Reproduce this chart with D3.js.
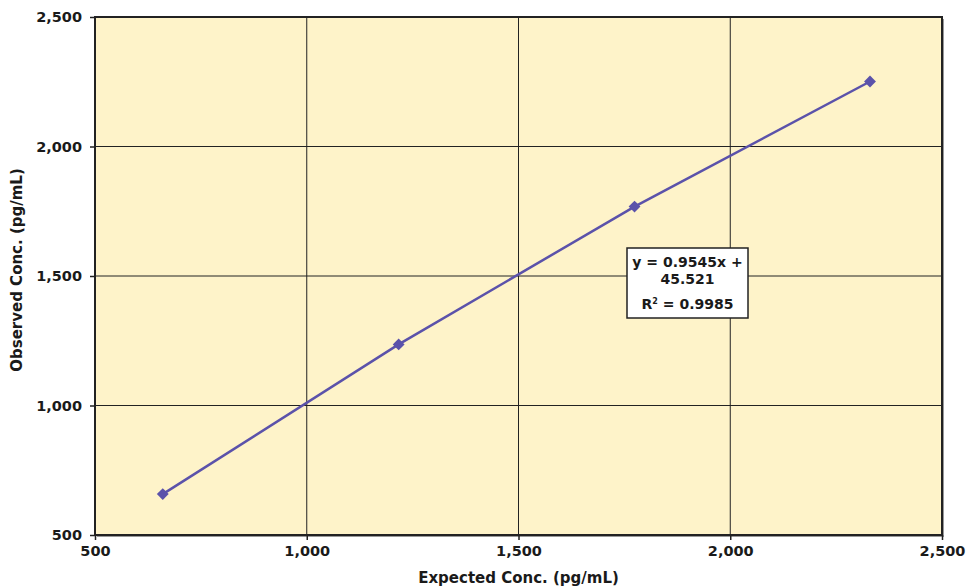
<!DOCTYPE html>
<html>
<head>
<meta charset="utf-8">
<script src="https://cdn.jsdelivr.net/npm/d3@7"></script>
<style>
  body { margin: 0; background: #fff; }
  text { font-family: "DejaVu Sans", sans-serif; font-weight: 700; fill: #1a1a1a; }
</style>
</head>
<body>
<div id="chart"></div>
<script>
// expected vs observed concentrations (pg/mL)
var expected = [660, 1217, 1774, 2330];
var observed = [658, 1236, 1768, 2251];
var xTicks = [500, 1000, 1500, 2000, 2500];
var yTicks = [500, 1000, 1500, 2000, 2500];
var fitLines = ["y = 0.9545x +", "45.521"];
var r2Label = "0.9985";

var width = 969, height = 588;
var margin = {top: 17, right: 27, bottom: 53, left: 95};
var w = width - margin.left - margin.right;
var h = height - margin.top - margin.bottom;

var svg = d3.select("#chart").append("svg")
    .attr("width", width)
    .attr("height", height);

var g = svg.append("g")
    .attr("transform", "translate(" + margin.left + "," + margin.top + ")");

var x = d3.scaleLinear().domain([500, 2500]).range([0, w]);
var y = d3.scaleLinear().domain([500, 2500]).range([h, 0]);

// plot background
g.append("rect")
    .attr("x", 2).attr("y", 2)
    .attr("width", w).attr("height", h)
    .attr("fill", "#999");
g.append("rect")
    .attr("width", w).attr("height", h)
    .attr("fill", "#fef3c9");

// gridlines
g.selectAll(".vgrid")
    .data(xTicks.slice(1, -1))
    .enter().append("line")
    .attr("x1", function(d) { return x(d); })
    .attr("x2", function(d) { return x(d); })
    .attr("y1", 0).attr("y2", h)
    .attr("stroke", "#222").attr("stroke-width", 1);
g.selectAll(".hgrid")
    .data(yTicks.slice(1, -1))
    .enter().append("line")
    .attr("y1", function(d) { return y(d); })
    .attr("y2", function(d) { return y(d); })
    .attr("x1", 0).attr("x2", w)
    .attr("stroke", "#222").attr("stroke-width", 1);

g.append("rect")
    .attr("width", w).attr("height", h)
    .attr("fill", "none")
    .attr("stroke", "#222").attr("stroke-width", 2);

// axes
var fmt = d3.format(",");
var xAxis = g.append("g")
    .attr("transform", "translate(0," + h + ")")
    .call(d3.axisBottom(x).tickValues(xTicks).tickFormat(fmt).tickSize(5).tickPadding(6));
var yAxis = g.append("g")
    .call(d3.axisLeft(y).tickValues(yTicks).tickFormat(fmt).tickSize(5).tickPadding(8));

[xAxis, yAxis].forEach(function(a) {
    a.select(".domain").remove();
    a.selectAll(".tick line").attr("stroke", "#222").attr("stroke-width", 1.5);
    a.selectAll(".tick text")
        .attr("font-size", 14.5)
        .style("font-family", "'DejaVu Sans', sans-serif")
        .style("font-weight", 700)
        .attr("fill", "#1a1a1a");
});

// series line + diamonds
var pts = expected.map(function(d, i) { return [d, observed[i]]; });
var line = d3.line()
    .x(function(d) { return x(d[0]); })
    .y(function(d) { return y(d[1]); });

g.append("path")
    .datum(pts)
    .attr("d", line)
    .attr("fill", "none")
    .attr("stroke", "#5b52aa")
    .attr("stroke-width", 2.5);

g.selectAll(".pt")
    .data(pts)
    .enter().append("path")
    .attr("d", d3.symbol().type(d3.symbolSquare).size(70))
    .attr("transform", function(d) { return "translate(" + x(d[0]) + "," + y(d[1]) + ") rotate(45)"; })
    .attr("fill", "#5b52aa");

// axis titles
svg.append("text")
    .attr("x", margin.left + x(1500))
    .attr("y", 583)
    .attr("text-anchor", "middle")
    .attr("font-size", 15)
    .text("Expected Conc. (pg/mL)");

svg.append("text")
    .attr("transform", "translate(22," + (margin.top + h / 2 - 6) + ") rotate(-90)")
    .attr("text-anchor", "middle")
    .attr("font-size", 15)
    .text("Observed Conc. (pg/mL)");

// trendline label box
var box = g.append("g").attr("transform", "translate(" + (627 - margin.left) + "," + (248 - margin.top) + ")");
box.append("rect")
    .attr("width", 121).attr("height", 70)
    .attr("fill", "#fff")
    .attr("stroke", "#222").attr("stroke-width", 1.5);
box.selectAll(".fit")
    .data(fitLines)
    .enter().append("text")
    .attr("x", 60.5)
    .attr("y", function(d, i) { return 19 + i * 17; })
    .attr("text-anchor", "middle")
    .attr("font-size", 14)
    .text(function(d) { return d; });
var r2 = box.append("text")
    .attr("x", 60.5).attr("y", 61)
    .attr("text-anchor", "middle")
    .attr("font-size", 14);
r2.append("tspan").text("R");
r2.append("tspan").attr("dy", -5).attr("font-size", 8).text("2");
r2.append("tspan").attr("dy", 5).text(" = " + r2Label);
</script>
</body>
</html>
